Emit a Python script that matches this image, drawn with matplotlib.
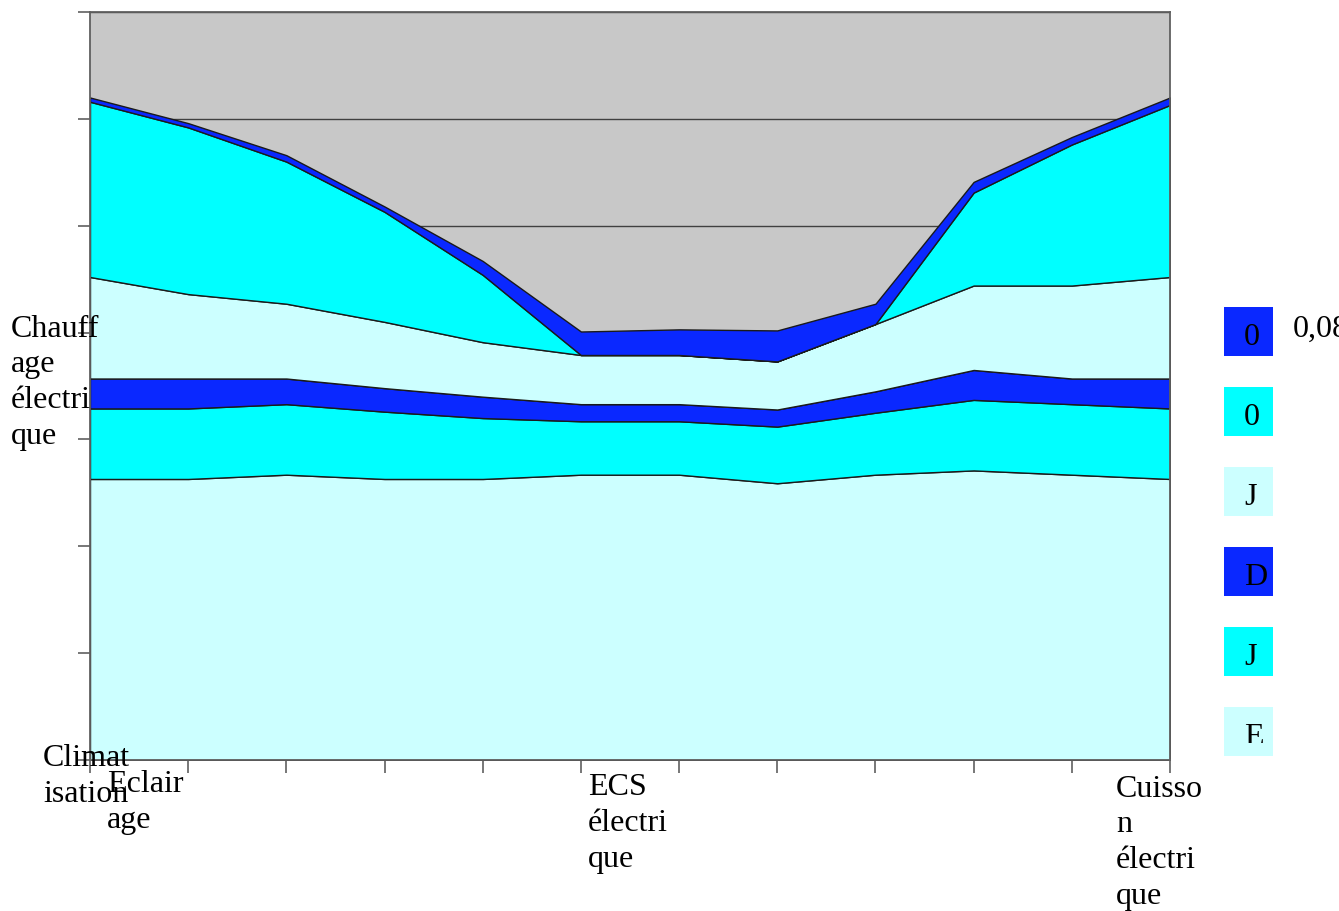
import numpy as np
import matplotlib
matplotlib.use("Agg")
import matplotlib.pyplot as plt
from matplotlib.patches import Rectangle

plt.rcParams['font.family'] = ['Liberation Serif', 'DejaVu Serif']

# categories (12 points, only 3 labels shown)
cat_labels = ["Eclair\nage", "", "", "", "", "ECS\nélectri\nque", "", "", "", "", "", "Cuisso\nn\nélectri\nque"]

# stacked series, bottom to top
s_E = [2.63, 2.63, 2.67, 2.63, 2.63, 2.67, 2.67, 2.59, 2.67, 2.71, 2.67, 2.63]
s_J1 = [0.66, 0.66, 0.66, 0.63, 0.57, 0.50, 0.50, 0.53, 0.58, 0.66, 0.66, 0.66]
s_D = [0.28, 0.28, 0.24, 0.22, 0.20, 0.16, 0.16, 0.16, 0.20, 0.28, 0.24, 0.28]
s_J2 = [0.95, 0.79, 0.70, 0.62, 0.51, 0.46, 0.46, 0.45, 0.63, 0.79, 0.87, 0.95]
s_0a = [1.64, 1.56, 1.33, 1.03, 0.63, 0.0, 0.0, 0.0, 0.0, 0.87, 1.32, 1.61]
s_0b = [0.04, 0.04, 0.06, 0.05, 0.13, 0.22, 0.24, 0.29, 0.19, 0.10, 0.07, 0.07]

series = [s_E, s_J1, s_D, s_J2, s_0a, s_0b]
names = ["E", "J", "D", "J", "0", "0"]

blue = '#0A28FF'
cyan = '#00FFFF'
light = '#CCFFFF'
colors = [light, cyan, blue, light, cyan, blue]

W, H = 1339, 911
fig = plt.figure(figsize=(W / 100, H / 100), dpi=100)
ax = fig.add_axes([90 / W, 1 - 760 / H, (1170 - 90) / W, (760 - 12) / H])
ax.set_facecolor('#C8C8C8')

x = np.arange(len(s_E))
ax.stackplot(x, *series, colors=colors, edgecolor='#1a1a1a', linewidth=1.0, zorder=2)

ax.set_xlim(0, 11)
ax.set_ylim(0, 7)
ax.set_yticks(np.arange(0, 8))
ax.set_yticklabels([])
ax.set_xticks(x)
ax.set_xticklabels([])
ax.grid(axis='y', color='#404040', linewidth=1.0, zorder=1)
ax.set_axisbelow(True)
ax.tick_params(axis='both', direction='out', length=9, width=1.2, color='#606060')
for sp in ax.spines.values():
    sp.set_color('#606060')
    sp.set_linewidth(1.3)
    sp.set_zorder(3)

fs = 23
# category labels as plain text like the original layout
def ftext(px, py, s, **kw):
    fig.text(px / W, 1 - py / H, s, fontsize=fs, va='baseline', ha='left',
             linespacing=1.31, **kw)

ftext(107, 828, cat_labels[0])
ftext(588, 867, cat_labels[5])
ftext(1116, 904, cat_labels[11])
ftext(11, 444, "Chauff\nage\nélectri\nque")
ftext(43, 802, "Climat\nisation")

# legend boxes (top to bottom = reversed stack order)
box_tops = [307, 387, 467, 547, 627, 707]
for i, (nm, col) in enumerate(zip(names[::-1], colors[::-1])):
    top = box_tops[i]
    rect = Rectangle((1224 / W, 1 - (top + 49) / H), 49 / W, 49 / H,
                     transform=fig.transFigure, facecolor=col, edgecolor='none')
    fig.add_artist(rect)
    t = fig.text(1244 / W, 1 - (top + 38) / H, nm, fontsize=fs, va='baseline', ha='left')
    clip = Rectangle((1224 / W, 1 - (top + 36) / H), 49 / W, 36 / H,
                     transform=fig.transFigure)
    if i == len(names) - 1:
        t.set_clip_path(clip)

fig.text(1293 / W, 1 - 337 / H, "0,08", fontsize=fs, va='baseline', ha='left')

fig.savefig('out.png', dpi=100)
